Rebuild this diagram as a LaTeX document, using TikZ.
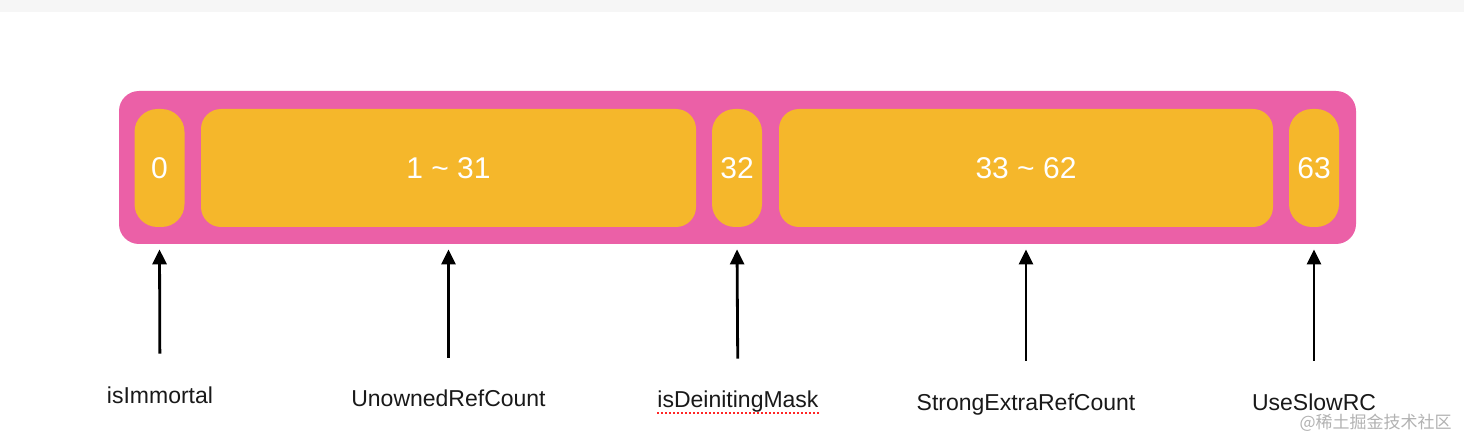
\documentclass[tikz,border=0pt]{standalone}
\usepackage{fontspec}
\setmainfont{Liberation Sans}
\newfontfamily\cjk{Noto Sans CJK SC}
\usepackage{xcolor}
\usepackage{tikz}
\usetikzlibrary{arrows.meta, positioning}
\definecolor{framec}{RGB}{235,96,167}
\definecolor{cellc}{RGB}{245,183,43}
\definecolor{ink}{RGB}{25,25,25}
\definecolor{band}{RGB}{246,246,246}

\begin{document}
\begin{tikzpicture}[x=0.5pt, y=-0.5pt,
  fr/.style={rectangle, rounded corners=10pt, fill=framec,
             minimum width=618.5pt, minimum height=76.5pt},
  cell/.style={rectangle, rounded corners=10pt, fill=cellc, text=white,
               minimum height=59pt, font=\fontsize{15}{18}\selectfont},
  cellsm/.style={cell, rounded corners=11.5pt, minimum width=25pt},
  lbl/.style={inner sep=0pt, anchor=base, text=ink, text height=8.5pt,
              font=\fontsize{11.5}{14}\selectfont},
  a/.style={-{Triangle[length=7.5pt, width=7pt]}, line width=1.4pt,
            shorten <=16pt, shorten >=2.5pt}]
  \useasboundingbox (0,0) rectangle (1464,444);
  \fill[white] (0,0) rectangle (1464,444);
  \fill[band] (0,0) rectangle (1464,12);

  % the 64 bit word
  \node[fr] (frame) at (737.5,167.5) {};
  \node[cellsm] (c0) at (159.5,168) {0};
  \node[cell, minimum width=247.5pt] (c1) at (448.5,168) {1 \textasciitilde{} 31};
  \node[cellsm] (c32) at (737,168) {32};
  \node[cell, minimum width=247pt] (c33) at (1026,168) {33 \textasciitilde{} 62};
  \node[cellsm] (c63) at (1314,168) {63};

  % field names
  \node[lbl] (l0) at (160,403) {isImmortal};
  \node[lbl] (l1) at (448.5,407) {UnownedRefCount};
  \node[lbl] (l32) at (738,408) {isDeinitingMask};
  \node[lbl] (l33) at (1026,410) {StrongExtraRefCount};
  \node[lbl] (l63) at (1314,410) {UseSlowRC};
  \draw[red!85, line width=0.9pt, dash pattern=on 1pt off 1pt]
    (l32.south west) -- (l32.south east);

  \draw[a] (l0) -- (c0 |- frame.south);
  \draw[a] (l1) -- (c1 |- frame.south);
  \draw[a] (l32) -- (c32 |- frame.south);
  \draw[a] (l33) -- (c33 |- frame.south);
  \draw[a] (l63) -- (c63 |- frame.south);

  \node[anchor=north east, inner sep=0pt, text=gray!60,
        font=\cjk\fontsize{8.5}{10}\selectfont] (wm) at (1452,414) {@稀土掘金技术社区};
\end{tikzpicture}
\end{document}
